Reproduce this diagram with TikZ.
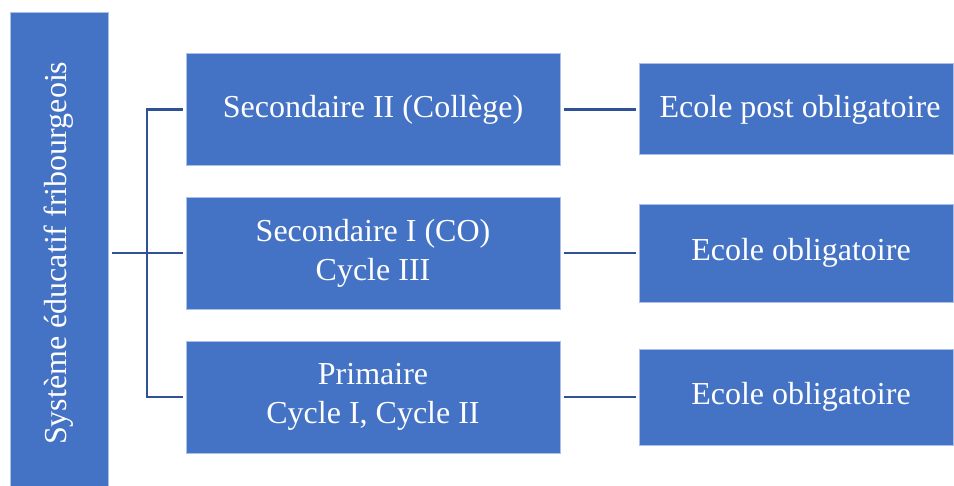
\documentclass[tikz,border=0pt]{standalone}
\usepackage{fontspec}
\setmainfont{Liberation Serif}
\usetikzlibrary{calc}
\definecolor{boxblue}{RGB}{68,114,196}
\definecolor{boxedge}{RGB}{170,192,230}
\definecolor{linkblue}{RGB}{47,82,150}

\begin{document}
\begin{tikzpicture}[x=1pt,y=-1pt,
  box/.style={draw=boxedge, line width=1pt, fill=boxblue, text=white, align=center,
    inner sep=0pt, font=\fontsize{32}{39}\selectfont},
  link/.style={draw=linkblue, line width=2.2pt}]
\clip (0,0) rectangle (954,486);
% left column
\node [box, rotate=90, minimum width=481pt, minimum height=98pt] (sys) at (59,253.3) {Système éducatif fribourgeois};
% middle column
\node [box, minimum width=374pt, minimum height=111.5pt] (sec2) at (373,109.5) {Secondaire II (Collège)};
\node [box, minimum width=374pt, minimum height=112pt] (sec1) at (373,253.3) {Secondaire I (CO)\\Cycle III};
\node [box, minimum width=374pt, minimum height=111.5pt] (prim) at (373,397.3) {Primaire\\Cycle I, Cycle II};
% right column
\node [box, minimum width=314pt, minimum height=91pt] (post) at (796,109.5) {\hspace*{8pt}Ecole post obligatoire};
\node [box, minimum width=314pt, minimum height=98pt] (oblA) at (796,253.3) {\hspace*{10pt}Ecole obligatoire};
\node [box, minimum width=314pt, minimum height=96pt] (oblB) at (796,397.3) {\hspace*{10pt}Ecole obligatoire};
% links
\coordinate (fork) at (147,253.3);
\draw [link] ([xshift=3pt]sys.south) -- (fork);
\draw [link] ([xshift=-3pt]sec2.west) -| (fork) |- ([xshift=-3pt]prim.west);
\draw [link] (fork) -- ([xshift=-3pt]sec1.west);
\draw [link] ([xshift=3pt]sec2.east) -- ([xshift=-3pt]post.west);
\draw [link] ([xshift=3pt]sec1.east) -- ([xshift=-3pt]oblA.west);
\draw [link] ([xshift=3pt]prim.east) -- ([xshift=-3pt]oblB.west);
\end{tikzpicture}
\end{document}
